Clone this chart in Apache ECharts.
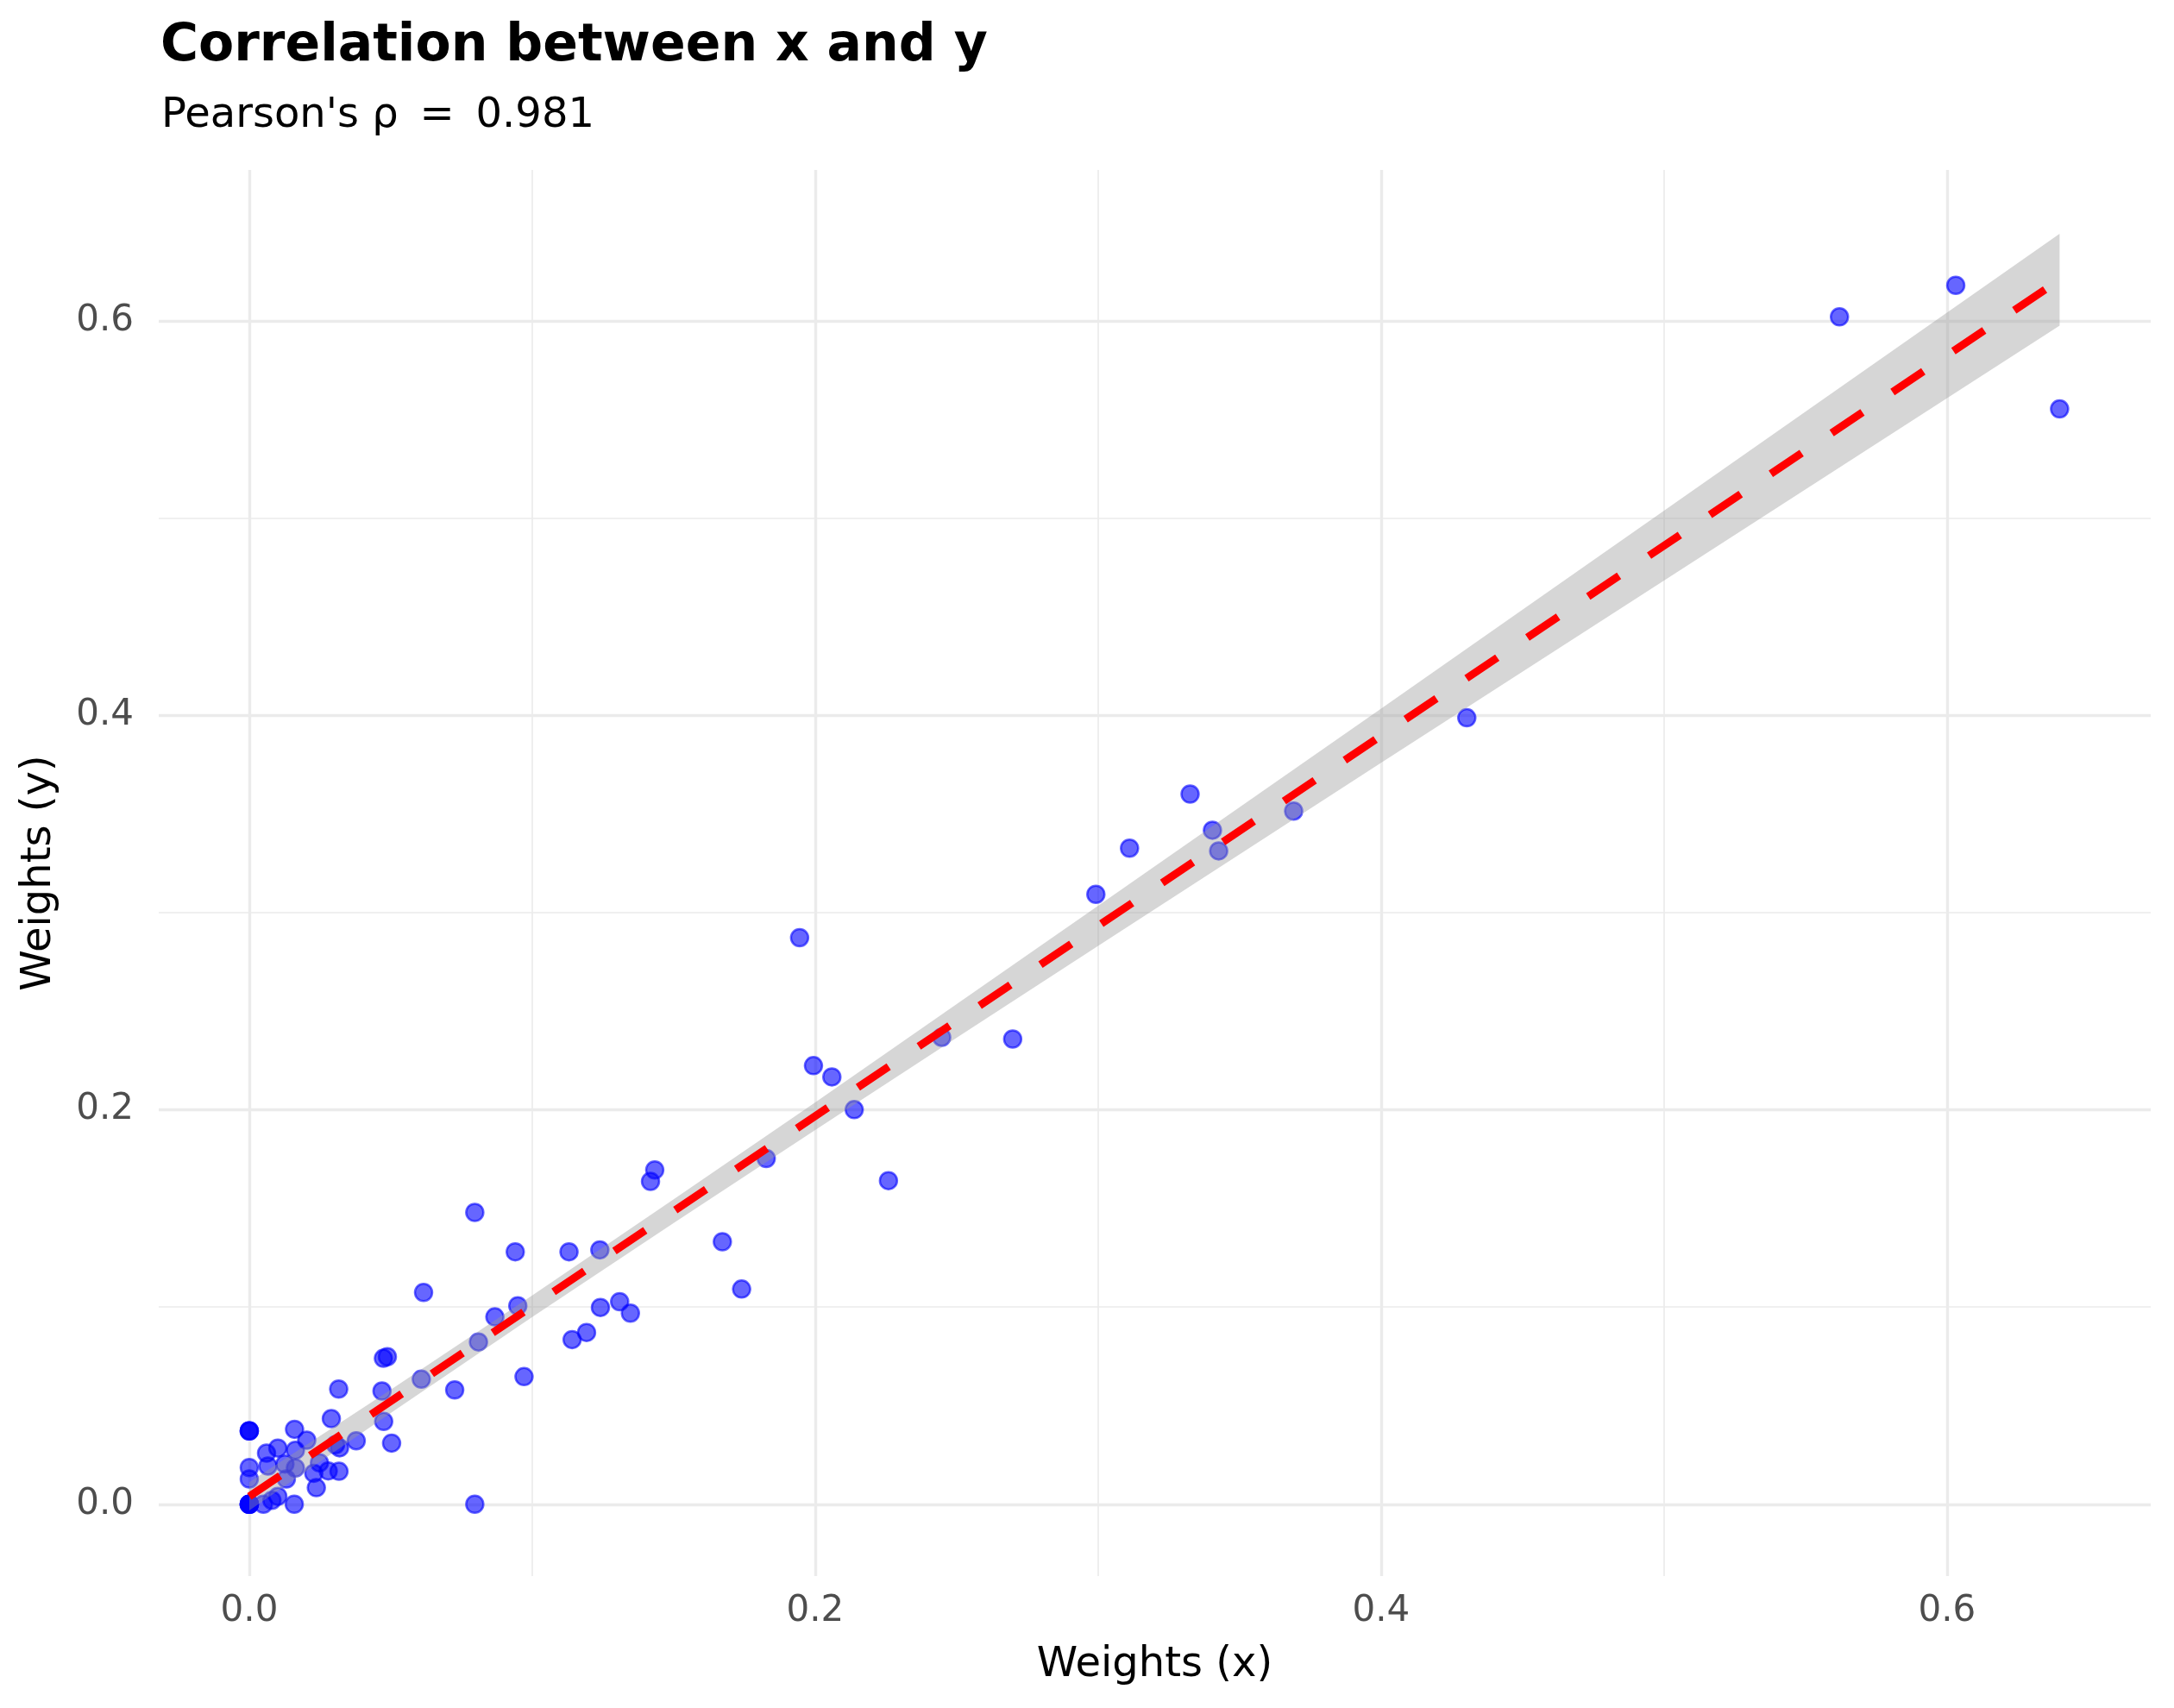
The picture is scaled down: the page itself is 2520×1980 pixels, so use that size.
<!DOCTYPE html>
<html>
<head>
<meta charset="utf-8">
<script src="https://cdn.jsdelivr.net/npm/echarts@6/dist/echarts.min.js"></script>
<style>
  html, body { margin: 0; padding: 0; background: #ffffff; }
  #chart { width: 2520px; height: 1980px; }
</style>
</head>
<body>
<div id="chart"></div>
<script>
// points
var weightX = [
  0, 0, 0, 0, 0, 0.005, 0.008, 0.0101, 0.0159,
  0, 0, 0, 0.016, 0.0203, 0.029, 0.0378, 0.0475, 0.0503,
  0.0061, 0.0101, 0.0163, 0, 0, 0.0066, 0.0126, 0.0163, 0.0131,
  0.0248, 0.0228, 0.0279, 0.0317, 0.0237, 0.0319, 0.0305,
  0.0316, 0.0469, 0.0608, 0.0474, 0.0488, 0.0726, 0.0797, 0.0971, 0.081,
  0.0616, 0.0797, 0.094, 0.113, 0.1239, 0.0949, 0.0868, 0.1241, 0.1309,
  0.1347, 0.1192, 0.1141, 0.1418, 0.1433, 0.1672, 0.174, 0.1827,
  0.1945, 0.1994, 0.2059, 0.2138, 0.2259, 0.2447, 0.2698,
  0.2992, 0.3111, 0.3325, 0.3404, 0.3426, 0.3691, 0.4303,
  0.562, 0.6031, 0.6398
];
var weightY = [
  0, 0, 0, 0, 0, 0, 0.002, 0.004, 0,
  0.0372, 0.0372, 0.0372, 0.038, 0.0325, 0.0434, 0.0322, 0.042, 0.031,
  0.0259, 0.0285, 0.0274, 0.0186, 0.0128, 0.0194, 0.0204, 0.0184, 0.0128,
  0.021, 0.0157, 0.0169, 0.0167, 0.0084, 0.0286, 0.0302,
  0.0584, 0.0574, 0.0634, 0.074, 0.0748, 0.058, 0, 0.0647, 0.0823,
  0.1074, 0.148, 0.128, 0.128, 0.129, 0.1006, 0.095, 0.0998, 0.1027,
  0.0969, 0.0871, 0.0835, 0.1637, 0.1695, 0.1331, 0.1091, 0.1753,
  0.2873, 0.2224, 0.2167, 0.2001, 0.1641, 0.2368, 0.2359,
  0.3093, 0.3327, 0.3601, 0.3418, 0.3313, 0.3515, 0.3988,
  0.6021, 0.6181, 0.5554
];

// fitted line and its confidence band
var fitX = [0, 0.6398];
var fitY = [0.004, 0.6209];
var bandX = [0, 0.05, 0.1, 0.15, 0.2, 0.25, 0.3, 0.4, 0.5, 0.6398];
var bandLow = [-0.0032, 0.0463, 0.0949, 0.1426, 0.1898, 0.2366, 0.2831, 0.376, 0.4684, 0.5976];
var bandHigh = [0.0112, 0.0581, 0.1059, 0.1546, 0.2038, 0.2536, 0.3035, 0.4034, 0.5038, 0.6442];

var majorTicks = [0, 0.2, 0.4, 0.6];
var minorTicks = [0.1, 0.3, 0.5];
var tickLabels = ['0.0', '0.2', '0.4', '0.6'];

var FONT = 'DejaVu Sans';

var points = weightX.map(function (x, i) { return [x, weightY[i]]; });
var fitLine = fitX.map(function (x, i) { return [x, fitY[i]]; });

// grid lines as mark lines
var gridLines = [];
majorTicks.forEach(function (v) {
  gridLines.push({ xAxis: v, lineStyle: { width: 3.4 } });
  gridLines.push({ yAxis: v, lineStyle: { width: 3.4 } });
});
minorTicks.forEach(function (v) {
  gridLines.push({ xAxis: v, lineStyle: { width: 1.7 } });
  gridLines.push({ yAxis: v, lineStyle: { width: 1.7 } });
});

function fmtTick(v) {
  var i = majorTicks.indexOf(v);
  return i >= 0 ? tickLabels[i] : v.toFixed(1);
}

var chart = echarts.init(document.getElementById('chart'));
chart.setOption({
  backgroundColor: '#ffffff',
  animation: false,
  title: [{
    text: 'Correlation between x and y',
    left: 181,
    top: 19,
    textStyle: { fontFamily: FONT, fontSize: 60, fontWeight: 'bold', color: '#000000', lineHeight: 60 }
  }, {
    text: 'Pearson\'s ρ\u2009 = \u20090.981',
    left: 182,
    top: 106,
    textStyle: { fontFamily: FONT, fontSize: 48, fontWeight: 'normal', color: '#000000', lineHeight: 48 }
  }],
  grid: { left: 184, right: 27, top: 197, bottom: 153, containLabel: false },
  xAxis: {
    type: 'value',
    min: -0.032,
    max: 0.672,
    name: 'Weights (x)',
    nameLocation: 'middle',
    nameGap: 80,
    nameTextStyle: { fontFamily: FONT, fontSize: 48, color: '#000000', lineHeight: 48 },
    axisLine: { show: false },
    axisTick: { show: false, customValues: majorTicks },
    splitLine: { show: false },
    axisLabel: {
      customValues: majorTicks,
      formatter: fmtTick,
      margin: 20,
      fontFamily: FONT,
      fontSize: 42,
      color: '#4D4D4D'
    }
  },
  yAxis: {
    type: 'value',
    min: -0.0364,
    max: 0.6766,
    name: 'Weights (y)',
    nameLocation: 'middle',
    nameGap: 114,
    nameTextStyle: { fontFamily: FONT, fontSize: 48, color: '#000000', lineHeight: 48 },
    axisLine: { show: false },
    axisTick: { show: false, customValues: majorTicks },
    splitLine: { show: false },
    axisLabel: {
      customValues: majorTicks,
      formatter: fmtTick,
      margin: 29,
      fontFamily: FONT,
      fontSize: 42,
      color: '#4D4D4D'
    }
  },
  series: [{
    // panel grid
    type: 'scatter',
    data: [],
    z: 0,
    silent: true,
    markLine: {
      silent: true,
      z: 0,
      symbol: ['none', 'none'],
      label: { show: false },
      lineStyle: { color: '#EBEBEB', type: 'solid' },
      emphasis: { disabled: true },
      data: gridLines
    }
  }, {
    name: 'weights',
    type: 'scatter',
    z: 2,
    data: points,
    symbol: 'circle',
    symbolSize: 20,
    itemStyle: {
      color: 'rgba(0,0,255,0.6)',
      borderColor: 'rgba(0,0,255,0.6)',
      borderWidth: 2.5,
      opacity: 1
    }
  }, {
    name: 'band',
    type: 'custom',
    z: 3,
    silent: true,
    data: [[0, 0]],
    renderItem: function (params, api) {
      var pts = [];
      for (var i = 0; i < bandX.length; i++) pts.push(api.coord([bandX[i], bandHigh[i]]));
      for (var j = bandX.length - 1; j >= 0; j--) pts.push(api.coord([bandX[j], bandLow[j]]));
      return {
        type: 'polygon',
        shape: { points: pts },
        style: { fill: 'rgba(153,153,153,0.4)', stroke: null }
      };
    }
  }, {
    name: 'fit',
    type: 'line',
    z: 4,
    silent: true,
    data: fitLine,
    symbol: 'none',
    lineStyle: { color: '#FF0000', width: 9, type: [43, 42], cap: 'butt' }
  }]
});
</script>
</body>
</html>
